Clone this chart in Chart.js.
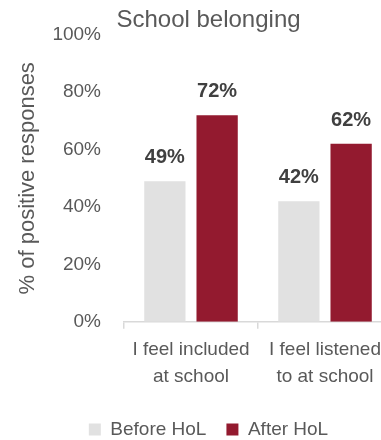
<!DOCTYPE html>
<html>
<head>
<meta charset="utf-8">
<script src="https://cdn.jsdelivr.net/npm/chart.js@4/dist/chart.umd.min.js"></script>
<style>
  html, body { margin: 0; padding: 0; background: #ffffff; overflow: hidden; }
  #wrap { width: 410px; height: 440px; position: relative; }
</style>
</head>
<body>
<div id="wrap"><canvas id="c" width="410" height="440"></canvas></div>
<script>
const categories = [["I feel included", "at school"], ["I feel listened", "to at school"]];
const seriesNames = ["Before HoL", "After HoL"];
const beforeValues = [49, 42];
const afterValues = [72, 62];
const yTicks = [0, 20, 40, 60, 80, 100];

const FONT = "'Liberation Sans', Arial, sans-serif";
const TXT = "#595959";

const valueLabels = {
  id: 'valueLabels',
  afterDatasetsDraw(chart) {
    const ctx = chart.ctx;
    ctx.save();
    ctx.font = "bold 20px " + FONT;
    ctx.fillStyle = "#404040";
    ctx.textAlign = "center";
    ctx.textBaseline = "alphabetic";
    chart.data.datasets.forEach((ds, i) => {
      const meta = chart.getDatasetMeta(i);
      meta.data.forEach((el, j) => {
        ctx.fillText(ds.data[j] + "%", el.x, el.y - 18);
      });
    });
    ctx.restore();
  }
};

new Chart(document.getElementById('c'), {
  type: 'bar',
  data: {
    labels: categories,
    datasets: [
      { label: seriesNames[0], data: beforeValues, backgroundColor: "#e1e1e1",
        barPercentage: 0.79, categoryPercentage: 0.78 },
      { label: seriesNames[1], data: afterValues, backgroundColor: "#931a2f",
        barPercentage: 0.79, categoryPercentage: 0.78 }
    ]
  },
  options: {
    responsive: false,
    animation: false,
    layout: { padding: { left: 25, right: 18, top: 0, bottom: -9 } },
    plugins: {
      title: {
        display: true,
        text: "School belonging",
        color: TXT,
        font: { family: FONT, size: 24, weight: 'normal', lineHeight: 1.2 },
        padding: { top: 6, bottom: 0 }
      },
      legend: {
        position: 'bottom',
        labels: {
          color: TXT,
          font: { family: FONT, size: 19 },
          boxWidth: 12,
          boxHeight: 12,
          padding: 20
        }
      },
      tooltip: { enabled: false }
    },
    scales: {
      x: {
        afterFit(scale) { scale.height += 2; },
        grid: { display: true, offset: true, drawOnChartArea: false, drawTicks: true,
                tickLength: 7, color: "#d9d9d9", lineWidth: 1.5 },
        border: { display: true, color: "#d9d9d9", width: 1.5 },
        ticks: { color: TXT, font: { family: FONT, size: 19, lineHeight: 1.4 },
                 padding: 8, maxRotation: 0, autoSkip: false }
      },
      y: {
        min: 0, max: 100,
        afterFit(scale) { scale.width = 99; },
        afterBuildTicks(scale) { scale.ticks = yTicks.map(v => ({ value: v })); },
        grid: { display: false },
        border: { display: false },
        ticks: { color: TXT, font: { family: FONT, size: 19 }, padding: 15,
                 callback: v => v + "%" },
        title: {
          display: true,
          text: "% of positive responses",
          color: TXT,
          font: { family: FONT, size: 22 },
          padding: { top: -10, bottom: 0 }
        }
      }
    }
  },
  plugins: [valueLabels]
});
</script>
</body>
</html>
